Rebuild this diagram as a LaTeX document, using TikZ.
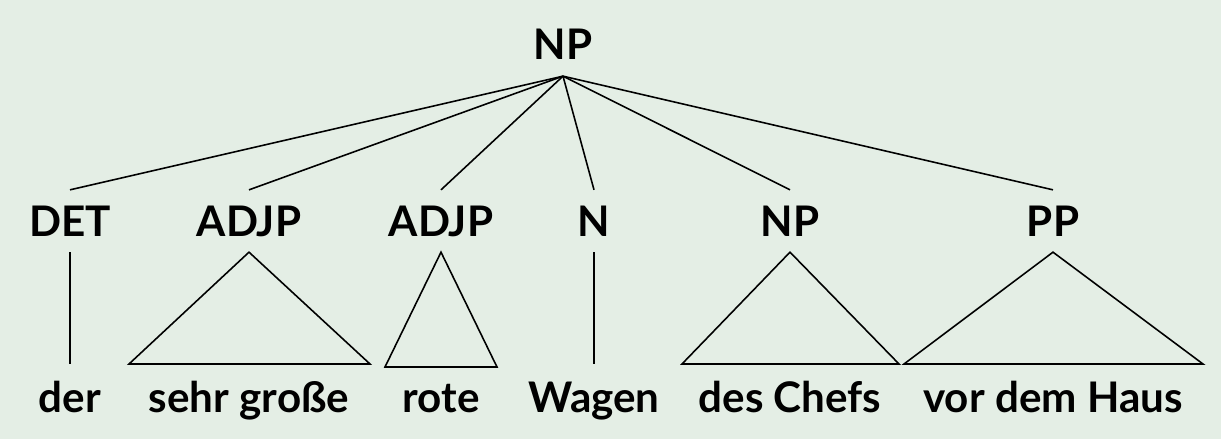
\documentclass[tikz,border=0pt]{standalone}
\usepackage{fontspec}
\setmainfont{Lato}
\usepackage{xcolor}
\usepackage{tikz}
\definecolor{bggreen}{HTML}{E4EEE5}

\begin{document}
\begin{tikzpicture}[x=0.02cm, y=-0.02cm]
        \tikzstyle{cat} = [inner xsep=2pt, inner ysep=9pt, text height=0.6cm, text depth=0pt, font=\fontsize{24}{28}\selectfont\bfseries]
        \tikzstyle{word} = [inner xsep=2pt, inner ysep=9pt, text height=0.64cm, text depth=0.2cm, font=\fontsize{24}{28}\selectfont\bfseries]
        \tikzstyle{line} = [draw, line width=0.9pt]

        \fill [bggreen] (0,0) rectangle (1221,439);
        \useasboundingbox (0,0) rectangle (1221,439);

        \node [cat, anchor=base] (np) at (563,60) {NP};
        \node [cat, anchor=base] (det) at (70,236) {DET};
        \node [cat, anchor=base] (adjpa) at (249,236) {ADJP};
        \node [cat, anchor=base] (adjpb) at (441,236) {ADJP};
        \node [cat, anchor=base] (n) at (594,236) {N};
        \node [cat, anchor=base] (npb) at (790,236) {NP};
        \node [cat, anchor=base] (pp) at (1053,236) {PP};

        \node [word, anchor=base] (der) at (70,412) {der};
        \node [word, anchor=base] (sehr) at (249,412) {sehr große};
        \node [word, anchor=base] (rote) at (441,412) {rote};
        \node [word, anchor=base] (wagen) at (594,412) {Wagen};
        \node [word, anchor=base] (chefs) at (790,412) {des Chefs};
        \node [word, anchor=base] (haus) at (1053,412) {vor dem Haus};

        \coordinate (adjpa-l) at (129,364);
        \coordinate (adjpa-r) at (370,364);
        \coordinate (adjpb-l) at (385,367);
        \coordinate (adjpb-r) at (497,367);
        \coordinate (npb-l) at (682,364);
        \coordinate (npb-r) at (899,364);
        \coordinate (pp-l) at (904,364);
        \coordinate (pp-r) at (1203,364);

        \path [line] (np.south) -- (det.north);
        \path [line] (np.south) -- (adjpa.north);
        \path [line] (np.south) -- (adjpb.north);
        \path [line] (np.south) -- (n.north);
        \path [line] (np.south) -- (npb.north);
        \path [line] (np.south) -- (pp.north);

        \path [line] (det.south) -- (der.north);
        \path [line] (n.south) -- (wagen.north);
        \path [line] (adjpa.south) -- (adjpa-l) -- (adjpa-r) -- cycle;
        \path [line] (adjpb.south) -- (adjpb-l) -- (adjpb-r) -- cycle;
        \path [line] (npb.south) -- (npb-l) -- (npb-r) -- cycle;
        \path [line] (pp.south) -- (pp-l) -- (pp-r) -- cycle;
    \end{tikzpicture}
\end{document}
